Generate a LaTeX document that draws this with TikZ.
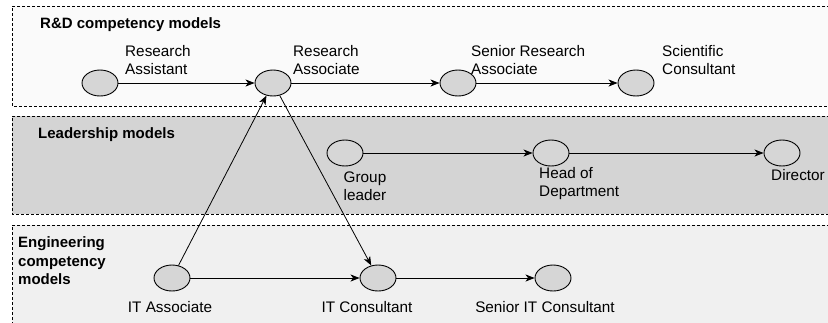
\documentclass[tikz,border=0pt]{standalone}
\usepackage{fontspec}
\setmainfont{Liberation Sans}
\usetikzlibrary{shapes.geometric,arrows.meta}
\definecolor{bandlight}{HTML}{FAFAFA}
\definecolor{banddark}{HTML}{D4D4D4}
\definecolor{bandmid}{HTML}{F0F0F0}
\definecolor{stagefill}{HTML}{D6D6D6}
\tikzset{
  stage/.style={ellipse,draw,line width=0.9pt,fill=stagefill,minimum width=36pt,minimum height=26pt,inner sep=0pt},
  lbl/.style={align=left,inner sep=0pt,font=\fontsize{15.3}{18}\selectfont},
  head/.style={align=left,inner sep=0pt,font=\fontsize{15}{18.5}\selectfont\bfseries},
  bandline/.style={line width=0.8pt,dash pattern=on 3pt off 2pt}
}
\begin{document}
\begin{tikzpicture}[x=1pt,y=-1pt,>={Stealth[length=9pt,width=7pt,inset=2.5pt]}]
\useasboundingbox (0,0) rectangle (828,322);
% bands
\fill[bandlight] (12,6) rectangle (840,106);
\draw[bandline] (840,6) -- (12,6) -- (12,106) -- (840,106);
\fill[banddark] (12,116) rectangle (840,214);
\draw[bandline] (840,116) -- (12,116) -- (12,214) -- (840,214);
\fill[bandmid] (12,225) rectangle (840,330);
\draw[bandline] (840,225) -- (12,225) -- (12,330);
\node[head,anchor=west] (rdhead) at (40,25) {R\&D competency models};
\node[head,anchor=west] (ldhead) at (38,135) {Leadership models};
\node[head,anchor=west] (enghead) at (18,261) {Engineering\\competency\\models};
% stages
\node[stage] (ra) at (100,83) {};
\node[stage] (rassoc) at (273,83) {};
\node[stage] (sra) at (458,83) {};
\node[stage] (sc) at (636,83) {};
\node[stage] (gl) at (345,153) {};
\node[stage] (hod) at (551,153) {};
\node[stage] (dir) at (782,153) {};
\node[stage] (ita) at (172,278) {};
\node[stage] (itc) at (378,278) {};
\node[stage] (sitc) at (553,278) {};
% labels
\node[lbl,anchor=west] (ralbl) at (125,60) {Research\\Assistant};
\node[lbl,anchor=west] (rassoclbl) at (293,60) {Research\\Associate};
\node[lbl,anchor=west] (sralbl) at (471,60) {Senior Research\\Associate};
\node[lbl,anchor=west] (sclbl) at (662,60) {Scientific\\Consultant};
\node[lbl,align=center] (gllbl) at (365,186) {Group\\leader};
\node[lbl,anchor=west] (hodlbl) at (539,184) {Head of\\Department};
\node[lbl,anchor=west] (dirlbl) at (771,175) {Director};
\node[lbl] (italbl) at (170,307) {IT Associate};
\node[lbl] (itclbl) at (367,307) {IT Consultant};
\node[lbl] (sitclbl) at (545,307) {Senior IT Consultant};
% careers
\foreach \a/\b in {ra/rassoc,rassoc/sra,sra/sc,gl/hod,hod/dir,ita/itc,itc/sitc,ita/rassoc,rassoc/itc}
  \draw[->,line width=0.8pt] (\a) -- (\b);
\end{tikzpicture}
\end{document}
